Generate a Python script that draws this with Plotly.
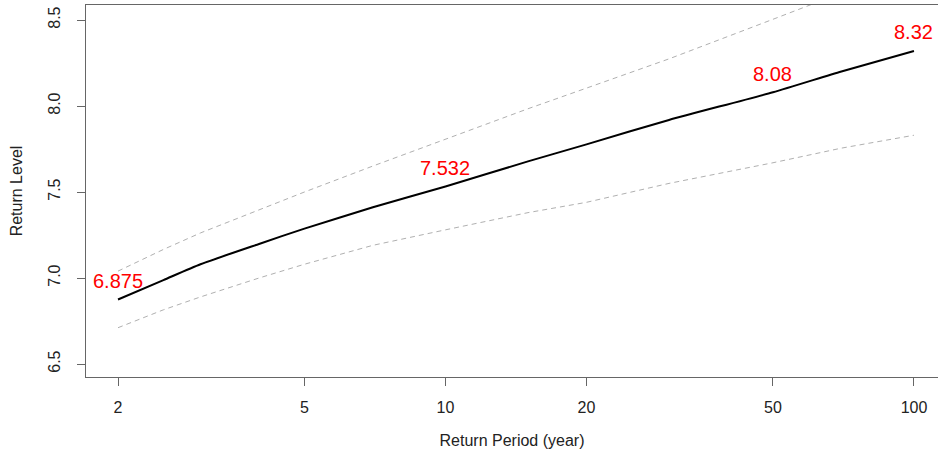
import plotly.graph_objects as go
import numpy as np

# Return periods (years)
periods = [2, 2.5, 3, 4, 5, 7, 10, 15, 20, 30, 50, 70, 100]
# Estimated return level (central)
level = [6.875, 6.988, 7.08, 7.198, 7.287, 7.411, 7.532, 7.678, 7.777, 7.919, 8.08, 8.201, 8.32]
# Confidence bounds
upper = [7.04, 7.166, 7.262, 7.396, 7.50, 7.651, 7.808, 7.984, 8.104, 8.274, 8.504, 8.657, 8.82]
lower = [6.711, 6.815, 6.89, 7.0, 7.08, 7.19, 7.28, 7.38, 7.44, 7.55, 7.67, 7.755, 7.83]

# Labelled points
label_periods = [2, 10, 50, 100]
label_values = [6.875, 7.532, 8.08, 8.32]
label_texts = ["6.875", "7.532", "8.08", "8.32"]

x_ticks = [2, 5, 10, 20, 50, 100]
y_ticks = [6.5, 7.0, 7.5, 8.0, 8.5]

FONT = "Liberation Sans, Arial, sans-serif"

fig = go.Figure()
fig.add_trace(go.Scatter(x=periods, y=upper, mode="lines",
                         line=dict(color="#b0b0b0", width=1, dash="5px,4px"),
                         showlegend=False, hoverinfo="skip"))
fig.add_trace(go.Scatter(x=periods, y=lower, mode="lines",
                         line=dict(color="#b0b0b0", width=1, dash="5px,4px"),
                         showlegend=False, hoverinfo="skip"))
fig.add_trace(go.Scatter(x=periods, y=level, mode="lines",
                         line=dict(color="black", width=2, shape="spline", smoothing=0.6),
                         showlegend=False))

for p, v, t in zip(label_periods, label_values, label_texts):
    fig.add_annotation(x=np.log10(p), y=v, text=t, showarrow=False,
                       yshift=18.5, xanchor="center", yanchor="middle",
                       font=dict(family=FONT, size=20, color="#ff0000"))

fig.update_layout(
    width=938, height=458,
    margin=dict(l=86, r=0, t=5, b=81),
    paper_bgcolor="white", plot_bgcolor="white",
    font=dict(family=FONT, size=16, color="#222222"),
    xaxis=dict(type="log", range=[0.2327, 2.0513],
               tickvals=x_ticks, ticktext=[str(v) for v in x_ticks],
               ticks="outside", ticklen=8, tickcolor="#666666", tickwidth=1,
               showline=True, linecolor="#666666", linewidth=1, mirror=True,
               showgrid=False, zeroline=False, ticklabelstandoff=8,
               title=dict(text="Return Period (year)", standoff=19,
                          font=dict(size=16))),
    yaxis=dict(range=[6.4244, 8.5872],
               tickvals=y_ticks, ticktext=[f"{v:.1f}" for v in y_ticks],
               tickangle=-90,
               ticks="outside", ticklen=8, tickcolor="#666666", tickwidth=1,
               showline=True, linecolor="#666666", linewidth=1, mirror=False,
               showgrid=False, zeroline=False, ticklabelstandoff=11,
               title=dict(text="Return Level", standoff=18,
                          font=dict(size=16))),
)

fig.write_html("out.html", config={"displayModeBar": False},
               post_script="document.body.style.margin='0px';")
